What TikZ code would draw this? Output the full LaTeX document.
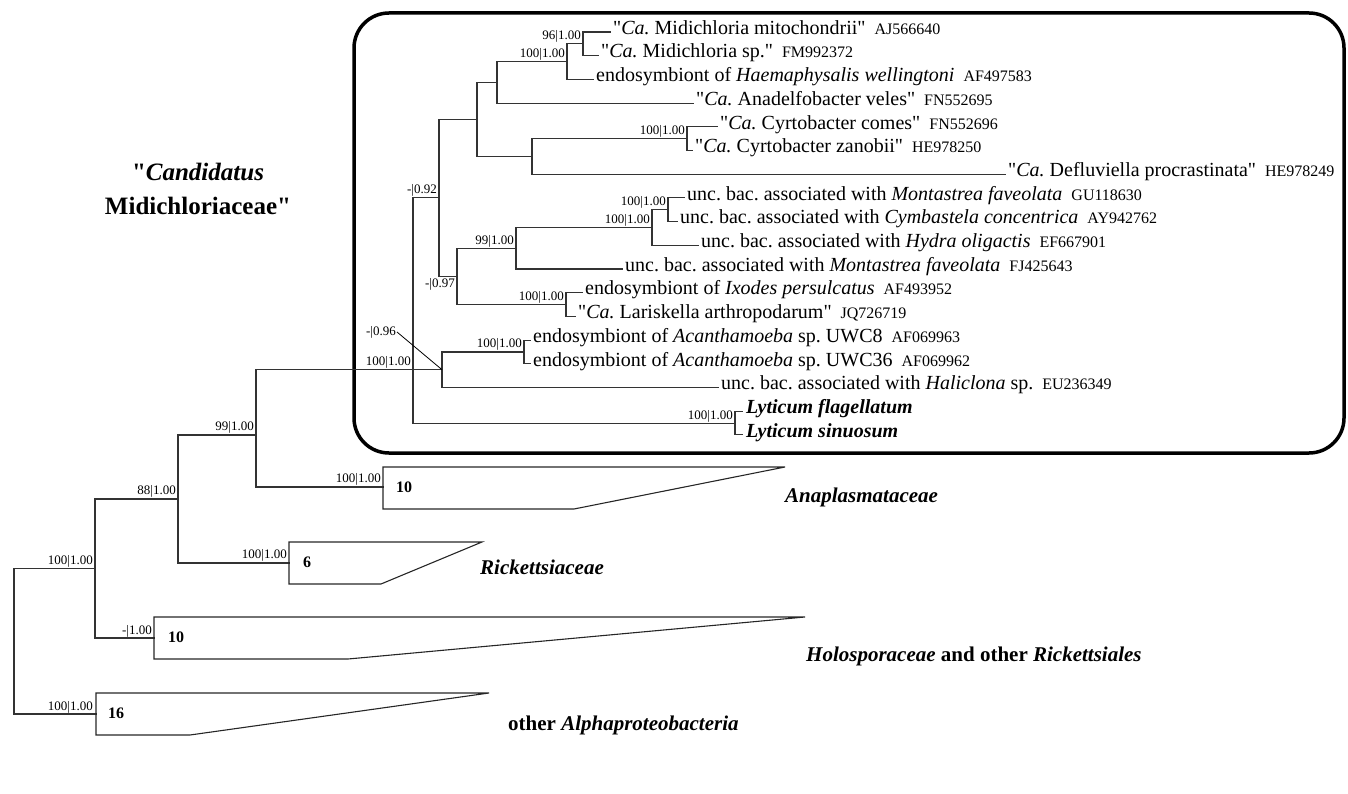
\documentclass[tikz,border=0pt]{standalone}
\usepackage{fontspec}
\setmainfont{Liberation Serif}[Ligatures=TeXOff]
\newcommand{\acc}[1]{\hspace{0.45em}{\fontsize{16}{18}\selectfont #1}}
\frenchspacing
\begin{document}
\frenchspacing
\begin{tikzpicture}[x=1pt,y=-1pt,
  br/.style={line width=1.1pt, draw=black!80, line cap=rect},
  bs/.style={font=\fontsize{13}{14}\selectfont, anchor=south east, inner sep=1pt},
  bsb/.style={font=\fontsize{13}{14}\selectfont, anchor=north east, inner sep=1pt},
  leaf/.style={font=\fontsize{20}{22}\selectfont, anchor=mid west, inner sep=0pt},
  clade/.style={line width=1.1pt, draw=black!85, line join=miter},
  cnt/.style={font=\fontsize{16}{18}\selectfont\bfseries, anchor=west, inner sep=0pt},
  grp/.style={font=\fontsize{21}{24}\selectfont\bfseries, anchor=west, inner sep=0pt},
]
\useasboundingbox (0,0) rectangle (1348,794);
\draw[line width=3.5pt, rounded corners=35pt] (354,13) rectangle (1344,453);

% internal nodes
\coordinate (nRoot) at (14,641.5);
\coordinate (nA) at (95,568.5);
\coordinate (nB) at (178,499);
\coordinate (nC) at (256,435);
\coordinate (nM) at (413,369.7);
\coordinate (n92) at (439,197.9);
\coordinate (n477) at (477,119.4);
\coordinate (n497) at (497,82.35);
\coordinate (n567) at (567,61.6);
\coordinate (n96) at (583,43.85);
\coordinate (nCD) at (532,156.4);
\coordinate (nCy) at (687,138.65);
\coordinate (n97) at (457,276.4);
\coordinate (n99) at (516,248.25);
\coordinate (n652) at (652,227.5);
\coordinate (n668) at (668,209.75);
\coordinate (nIx) at (566,304.55);
\coordinate (nAB) at (442,369.7);
\coordinate (nAc) at (524,351.95);
\coordinate (nLy) at (735,423.05);

% leaf tips
\coordinate (t0) at (610,32);
\coordinate (t1) at (598,55.7);
\coordinate (t2) at (593,79.4);
\coordinate (t3) at (693,103.1);
\coordinate (t4) at (717,126.8);
\coordinate (t5) at (692,150.5);
\coordinate (t6) at (1005,174.2);
\coordinate (t7) at (684,197.9);
\coordinate (t8) at (677,221.6);
\coordinate (t9) at (698,245.3);
\coordinate (t10) at (622,269);
\coordinate (t11) at (582,292.7);
\coordinate (t12) at (575,316.4);
\coordinate (t13) at (530,340.1);
\coordinate (t14) at (530,363.8);
\coordinate (t15) at (718,387.5);
\coordinate (t16) at (742,411.2);
\coordinate (t17) at (742,434.9);

% collapsed clade attachment points
\coordinate (cAn) at (383,487);
\coordinate (cRi) at (289,563);
\coordinate (cHo) at (154,638);
\coordinate (cAl) at (96,714);

% branches
\draw[br] (nRoot) |- (nA);
\draw[br] (nRoot) |- (cAl);
\draw[br] (nA) |- (nB);
\draw[br] (nA) |- (cHo);
\draw[br] (nB) |- (nC);
\draw[br] (nB) |- (cRi);
\draw[br] (nC) |- (nM);
\draw[br] (nC) |- (cAn);
\draw[br] (nM) |- (n92);
\draw[br] (nM) |- (nLy);
\draw[br] (nM) -- (nAB);
\draw[br] (n92) |- (n477);
\draw[br] (n92) |- (n97);
\draw[br] (n477) |- (n497);
\draw[br] (n477) |- (nCD);
\draw[br] (n497) |- (n567);
\draw[br] (n497) |- (t3);
\draw[br] (n567) |- (n96);
\draw[br] (n567) |- (t2);
\draw[br] (n96) |- (t0);
\draw[br] (n96) |- (t1);
\draw[br] (nCD) |- (nCy);
\draw[br] (nCD) |- (t6);
\draw[br] (nCy) |- (t4);
\draw[br] (nCy) |- (t5);
\draw[br] (n97) |- (n99);
\draw[br] (n97) |- (nIx);
\draw[br] (n99) |- (n652);
\draw[br] (n99) |- (t10);
\draw[br] (n652) |- (n668);
\draw[br] (n652) |- (t9);
\draw[br] (n668) |- (t7);
\draw[br] (n668) |- (t8);
\draw[br] (nIx) |- (t11);
\draw[br] (nIx) |- (t12);
\draw[br] (nAB) |- (nAc);
\draw[br] (nAB) |- (t15);
\draw[br] (nAc) |- (t13);
\draw[br] (nAc) |- (t14);
\draw[br] (nLy) |- (t16);
\draw[br] (nLy) |- (t17);

% collapsed clades
\draw[clade] (383,467) -- (785,467) -- (574,509) -- (383,509) -- cycle;
\draw[clade] (289,542) -- (482,542) -- (381,584) -- (289,584) -- cycle;
\draw[clade] (154,617) -- (805,617) -- (348,659) -- (154,659) -- cycle;
\draw[clade] (96,693) -- (489,693) -- (190,735) -- (96,735) -- cycle;
\node[cnt] (kAn) at (396,487) {10};
\node[cnt] (kRi) at (303,562) {6};
\node[cnt] (kHo) at (168,637) {10};
\node[cnt] (kAl) at (108,713) {16};

% leaf labels
\node[leaf] (l0) at ([xshift=3pt]t0) {"\textit{Ca.} Midichloria mitochondrii"\acc{AJ566640}};
\node[leaf] (l1) at ([xshift=3pt]t1) {"\textit{Ca.} Midichloria sp."\acc{FM992372}};
\node[leaf] (l2) at ([xshift=3pt]t2) {endosymbiont of \textit{Haemaphysalis wellingtoni}\acc{AF497583}};
\node[leaf] (l3) at ([xshift=3pt]t3) {"\textit{Ca.} Anadelfobacter veles"\acc{FN552695}};
\node[leaf] (l4) at ([xshift=3pt]t4) {"\textit{Ca.} Cyrtobacter comes"\acc{FN552696}};
\node[leaf] (l5) at ([xshift=3pt]t5) {"\textit{Ca.} Cyrtobacter zanobii"\acc{HE978250}};
\node[leaf] (l6) at ([xshift=3pt]t6) {"\textit{Ca.} Defluviella procrastinata"\acc{HE978249}};
\node[leaf] (l7) at ([xshift=3pt]t7) {unc. bac. associated with \textit{Montastrea faveolata}\acc{GU118630}};
\node[leaf] (l8) at ([xshift=3pt]t8) {unc. bac. associated with \textit{Cymbastela concentrica}\acc{AY942762}};
\node[leaf] (l9) at ([xshift=3pt]t9) {unc. bac. associated with \textit{Hydra oligactis}\acc{EF667901}};
\node[leaf] (l10) at ([xshift=3pt]t10) {unc. bac. associated with \textit{Montastrea faveolata}\acc{FJ425643}};
\node[leaf] (l11) at ([xshift=3pt]t11) {endosymbiont of \textit{Ixodes persulcatus}\acc{AF493952}};
\node[leaf] (l12) at ([xshift=3pt]t12) {"\textit{Ca.} Lariskella arthropodarum"\acc{JQ726719}};
\node[leaf] (l13) at ([xshift=3pt]t13) {endosymbiont of \textit{Acanthamoeba} sp. UWC8\acc{AF069963}};
\node[leaf] (l14) at ([xshift=3pt]t14) {endosymbiont of \textit{Acanthamoeba} sp. UWC36\acc{AF069962}};
\node[leaf] (l15) at ([xshift=3pt]t15) {unc. bac. associated with \textit{Haliclona} sp.\acc{EU236349}};
\node[leaf] (l16) at ([xshift=4pt]t16) {\bfseries\itshape Lyticum flagellatum};
\node[leaf] (l17) at ([xshift=4pt]t17) {\bfseries\itshape Lyticum sinuosum};

% support values
\node[bs] (b1) at (582,43.85) {96|1.00};
\node[bs] (b2) at (566,61.6) {100|1.00};
\node[bs] (b3) at (686,138.65) {100|1.00};
\node[bs] (b4) at (438,197.9) {-|0.92};
\node[bs] (b5) at (667,209.75) {100|1.00};
\node[bs] (b6) at (651,227.5) {100|1.00};
\node[bs] (b7) at (515,248.25) {99|1.00};
\node[bsb] (b8) at (456,277.5) {-|0.97};
\node[bs] (b9) at (565,304.55) {100|1.00};
\node[bs] (b10) at (523,351.95) {100|1.00};
\node[font=\fontsize{13}{14}\selectfont, anchor=east, inner sep=1pt] (b11) at (397,332) {-|0.96};
\draw[line width=0.8pt] (b11.east) -- (nAB);
\node[bs] (b12) at (412,369.7) {100|1.00};
\node[bs] (b13) at (734,423.05) {100|1.00};
\node[bs] (b14) at (382,487) {100|1.00};
\node[bs] (b15) at (255,435) {99|1.00};
\node[bs] (b16) at (288,563) {100|1.00};
\node[bs] (b17) at (177,499) {88|1.00};
\node[bs] (b18) at (153,638) {-|1.00};
\node[bs] (b19) at (94,568.5) {100|1.00};
\node[bs] (b20) at (94,714) {100|1.00};

% group labels
\node[font=\fontsize{25}{34}\selectfont\bfseries, align=center] (fam) at (198,189) {"\textit{Candidatus}\\Midichloriaceae"};
\node[grp] (gAn) at (785,497) {\textit{Anaplasmataceae}};
\node[grp] (gRi) at (480,567) {\textit{Rickettsiaceae}};
\node[grp] (gHo) at (806,656) {\textit{Holosporaceae} and other \textit{Rickettsiales}};
\node[grp] (gAl) at (508,725) {other \textit{Alphaproteobacteria}};
\end{tikzpicture}
\end{document}
